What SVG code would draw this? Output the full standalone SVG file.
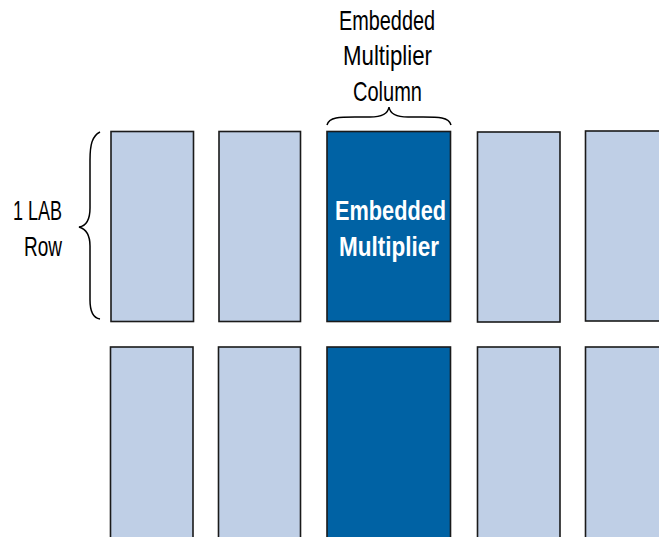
<svg xmlns="http://www.w3.org/2000/svg" width="659" height="537" viewBox="0 0 659 537">
<style>
.lab{fill:#bfcfe6;stroke:#1a1a1a;stroke-width:1.6}
.mul{fill:#0062a4;stroke:#1a1a1a;stroke-width:1.6}
.t{font-family:"Liberation Sans",Arial,sans-serif;font-size:28px;fill:#000}
.b{font-family:"Liberation Sans",Arial,sans-serif;font-size:27px;font-weight:bold;fill:#fff}
.br{fill:none;stroke:#000;stroke-width:1.5}
</style>
<rect width="659" height="537" fill="#fff"/>
<g id="row1">
<g id="lab-r1c1"><rect class="lab" x="111" y="131.5" width="82.5" height="190"/></g>
<g id="lab-r1c2"><rect class="lab" x="219" y="131.5" width="81.5" height="190"/></g>
<g id="mul-r1"><rect class="mul" x="327" y="131.5" width="123.5" height="190"/>
<text class="b" x="335" y="220" textLength="111" lengthAdjust="spacingAndGlyphs">Embedded</text>
<text class="b" x="339" y="256" textLength="100" lengthAdjust="spacingAndGlyphs">Multiplier</text></g>
<g id="lab-r1c4"><rect class="lab" x="477.5" y="132" width="82.5" height="190"/></g>
<g id="lab-r1c5"><rect class="lab" x="585.5" y="131" width="80" height="190"/></g>
</g>
<g id="row2">
<g id="lab-r2c1"><rect class="lab" x="110.5" y="347" width="82.5" height="200"/></g>
<g id="lab-r2c2"><rect class="lab" x="218.5" y="347" width="82" height="200"/></g>
<g id="mul-r2"><rect class="mul" x="327" y="347" width="123.5" height="200"/></g>
<g id="lab-r2c4"><rect class="lab" x="477.5" y="347" width="82.5" height="200"/></g>
<g id="lab-r2c5"><rect class="lab" x="585.5" y="347" width="80" height="200"/></g>
</g>
<g id="label-column">
<text class="t" x="339" y="30" textLength="96" lengthAdjust="spacingAndGlyphs">Embedded</text>
<text class="t" x="343" y="65" textLength="89" lengthAdjust="spacingAndGlyphs">Multiplier</text>
<text class="t" x="353" y="101" textLength="69" lengthAdjust="spacingAndGlyphs">Column</text>
</g>
<g id="label-row">
<text class="t" x="13" y="220" textLength="49" lengthAdjust="spacingAndGlyphs">1 LAB</text>
<text class="t" x="24" y="256" textLength="38" lengthAdjust="spacingAndGlyphs">Row</text>
</g>
<g id="connectors">
<path class="br" d="M327,125 C329,117 340,117 355,117 L370,117 C382,117 388,114 389,107 C390,114 396,117 408,117 L423,117 C438,117 449,117 451,125"/>
<path class="br" d="M100,132 C92,136 90,145 90,160 L90,208 C90,220 86,226 79,227 C86,229 90,235 90,246 L90,300 C90,312 93,318 100,319"/>
</g>
</svg>
